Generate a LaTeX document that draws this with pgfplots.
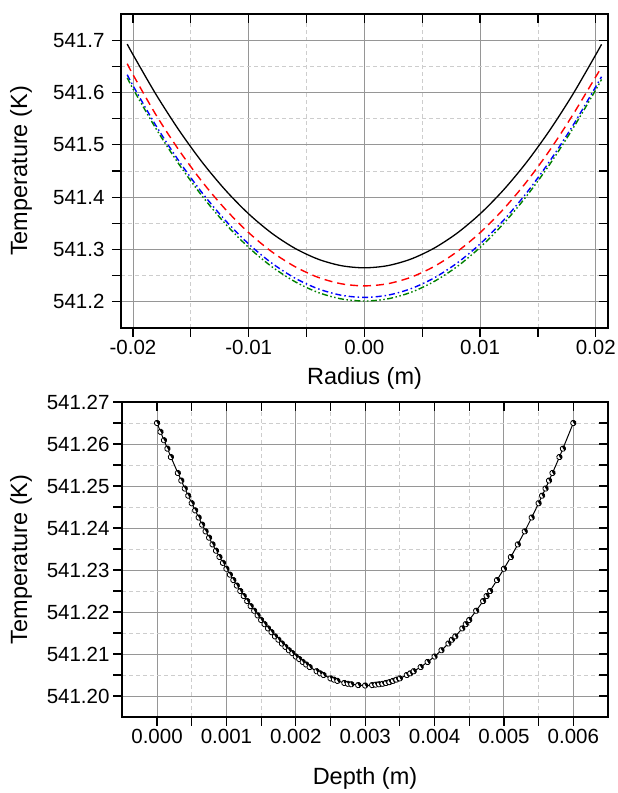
\documentclass[border=0pt]{standalone}
\usepackage{fontspec}
\setmainfont{Liberation Sans}
\usepackage{pgfplots}
\pgfplotsset{compat=1.18}
\definecolor{majgrid}{RGB}{150,150,150}
\definecolor{mingrid}{RGB}{205,205,205}
\definecolor{cgreen}{RGB}{0,128,0}

\pgfplotsset{
  frame/.style={scale only axis,
    axis line style={line width=1.3bp},
    every tick/.style={line width=1.2bp, black},
    major tick length=9bp, minor tick length=9bp,
    scaled x ticks=false, scaled y ticks=false,
    /pgf/number format/assume math mode=true,
    tick label style={font=\fontsize{20.5bp}{24bp}\selectfont},
    label style={font=\fontsize{23.5bp}{28bp}\selectfont},
    minor tick num=1},
  mainax/.style={frame, tick align=outside, xtick pos=left, ytick pos=left,
    grid=both,
    major grid style={majgrid, line width=0.9bp},
    minor grid style={mingrid, dash pattern=on 4bp off 3bp, line width=0.8bp}},
  overax/.style={frame, tick align=inside, xtick pos=right, ytick pos=right,
    xticklabels={}, yticklabels={}},
  topax/.style={width=487bp, height=314bp, at={(121bp,465bp)}, anchor=south west,
    xmin=-0.02104, xmax=0.02106, ymin=541.15, ymax=541.75,
    xtick={-0.02,-0.01,0,0.01,0.02},
    ytick={541.2,541.3,541.4,541.5,541.6,541.7}},
  botax/.style={width=486bp, height=315bp, at={(122bp,76bp)}, anchor=south west,
    xmin=-0.000505, xmax=0.0065, ymin=541.195, ymax=541.27,
    xtick={0,0.001,0.002,0.003,0.004,0.005,0.006},
    ytick={541.20,541.21,541.22,541.23,541.24,541.25,541.26,541.27}},
}

\begin{document}
\begin{tikzpicture}
\useasboundingbox (0,0) rectangle (618bp,793bp);

% top panel: temperature vs radius
\begin{axis}[mainax, topax,
  xticklabel style={/pgf/number format/fixed, /pgf/number format/fixed zerofill, /pgf/number format/precision=2},
  yticklabel style={xshift=-4bp, /pgf/number format/fixed, /pgf/number format/fixed zerofill, /pgf/number format/precision=1},
  xlabel={Radius (m)}, ylabel={Temperature (K)},
  xlabel style={at={(axis description cs:0.5,-0.159)}, anchor=center},
  ylabel style={at={(axis description cs:-0.2053,0.5)}, anchor=center}]
\addplot[black, line width=1.3bp, smooth] coordinates {
  (-0.0205,541.6925) (-0.020,541.6722) (-0.018,541.5958) (-0.016,541.5271)
  (-0.014,541.4661) (-0.012,541.4131) (-0.010,541.3680) (-0.008,541.3310)
  (-0.006,541.3022) (-0.004,541.2815) (-0.002,541.2691) (0,541.2650)
  (0.002,541.2691) (0.004,541.2815) (0.006,541.3022) (0.008,541.3310)
  (0.010,541.3680) (0.012,541.4131) (0.014,541.4661) (0.016,541.5271)
  (0.018,541.5958) (0.020,541.6722) (0.0205,541.6920)};
\addplot[red, line width=1.4bp, smooth, dash pattern=on 8bp off 5bp] coordinates {
  (-0.0205,541.6550) (-0.020,541.6340) (-0.018,541.5567) (-0.016,541.4889)
  (-0.014,541.4288) (-0.012,541.3765) (-0.010,541.3321) (-0.008,541.2956)
  (-0.006,541.2672) (-0.004,541.2468) (-0.002,541.2345) (0,541.2305)
  (0.002,541.2345) (0.004,541.2468) (0.006,541.2672) (0.008,541.2956)
  (0.010,541.3321) (0.012,541.3765) (0.014,541.4288) (0.016,541.4889)
  (0.018,541.5567) (0.020,541.6300) (0.0205,541.6480)};
\addplot[blue, line width=1.4bp, smooth, dash pattern=on 6bp off 3bp on 1.5bp off 3bp] coordinates {
  (-0.0205,541.6340) (-0.020,541.6130) (-0.018,541.5360) (-0.016,541.4680)
  (-0.014,541.4076) (-0.012,541.3551) (-0.010,541.3105) (-0.008,541.2739)
  (-0.006,541.2453) (-0.004,541.2249) (-0.002,541.2126) (0,541.2085)
  (0.002,541.2126) (0.004,541.2249) (0.006,541.2453) (0.008,541.2739)
  (0.010,541.3105) (0.012,541.3551) (0.014,541.4076) (0.016,541.4680)
  (0.018,541.5360) (0.020,541.6110) (0.0205,541.6300)};
\addplot[cgreen, line width=1.4bp, smooth, dash pattern=on 6bp off 2.5bp on 1.5bp off 2.5bp on 1.5bp off 2.5bp] coordinates {
  (-0.0205,541.6280) (-0.020,541.6070) (-0.018,541.5303) (-0.016,541.4620)
  (-0.014,541.4014) (-0.012,541.3487) (-0.010,541.3039) (-0.008,541.2671)
  (-0.006,541.2385) (-0.004,541.2179) (-0.002,541.2056) (0,541.2015)
  (0.002,541.2056) (0.004,541.2179) (0.006,541.2385) (0.008,541.2671)
  (0.010,541.3039) (0.012,541.3487) (0.014,541.4014) (0.016,541.4620)
  (0.018,541.5303) (0.020,541.6050) (0.0205,541.6250)};
\end{axis}
\begin{axis}[overax, topax]
\end{axis}

% bottom panel: temperature vs depth
\begin{axis}[mainax, botax,
  xticklabel style={/pgf/number format/fixed, /pgf/number format/fixed zerofill, /pgf/number format/precision=3},
  yticklabel style={/pgf/number format/fixed, /pgf/number format/fixed zerofill, /pgf/number format/precision=2},
  xlabel={Depth (m)}, ylabel={Temperature (K)},
  xlabel style={at={(axis description cs:0.5,-0.194)}, anchor=center},
  ylabel style={at={(axis description cs:-0.2078,0.5)}, anchor=center}]
\addplot[black, line width=1bp, mark=halfcircle*, mark size=2.7bp,
  mark options={fill=black, draw=black, line width=0.8bp, rotate=-60}] coordinates {
  (0.00000,541.2650) (0.00005,541.2629) (0.00010,541.2609) (0.00015,541.2589) (0.00020,541.2569)
  (0.00030,541.2531) (0.00035,541.2513) (0.00040,541.2494) (0.00045,541.2477) (0.00050,541.2459)
  (0.00055,541.2442) (0.00060,541.2425) (0.00065,541.2408) (0.00070,541.2392) (0.00075,541.2377)
  (0.00080,541.2361) (0.00085,541.2346) (0.00090,541.2331) (0.00095,541.2317) (0.00100,541.2303)
  (0.00105,541.2289) (0.00110,541.2276) (0.00115,541.2263) (0.00120,541.2250)
  (0.00125,541.2238) (0.00130,541.2226) (0.00135,541.2214) (0.00140,541.2203)
  (0.00145,541.2192) (0.00150,541.2181) (0.00155,541.2171) (0.00160,541.2161)
  (0.00165,541.2152) (0.00170,541.2142) (0.00175,541.2134) (0.00180,541.2125)
  (0.00185,541.2117) (0.00190,541.2109) (0.00195,541.2102) (0.00200,541.2094)
  (0.00205,541.2088) (0.00210,541.2081) (0.00215,541.2075) (0.00220,541.2069)
  (0.00230,541.2059) (0.00235,541.2054) (0.00240,541.2050) (0.00250,541.2042)
  (0.00255,541.2039) (0.00260,541.2036) (0.00270,541.2031) (0.00275,541.2029)
  (0.00280,541.2028) (0.00290,541.2026) (0.00300,541.2025) (0.00310,541.2026)
  (0.00315,541.2027) (0.00320,541.2028) (0.00325,541.2029) (0.00330,541.2031)
  (0.00335,541.2033) (0.00340,541.2036) (0.00345,541.2039) (0.00350,541.2042)
  (0.00360,541.2050) (0.00365,541.2054) (0.00370,541.2059) (0.00380,541.2069)
  (0.00390,541.2081) (0.00400,541.2094) (0.00410,541.2109) (0.00420,541.2125)
  (0.00425,541.2134) (0.00430,541.2142) (0.00440,541.2161) (0.00445,541.2171)
  (0.00450,541.2181) (0.00460,541.2203) (0.00470,541.2226) (0.00475,541.2238)
  (0.00480,541.2250) (0.00490,541.2276) (0.00500,541.2303) (0.00510,541.2331)
  (0.00520,541.2361) (0.00530,541.2392) (0.00540,541.2425) (0.00550,541.2459)
  (0.00555,541.2477) (0.00560,541.2494) (0.00565,541.2513) (0.00570,541.2531)
  (0.00580,541.2569) (0.00585,541.2589) (0.00600,541.2650)};
\end{axis}
\begin{axis}[overax, botax]
\end{axis}
\end{tikzpicture}
\end{document}
